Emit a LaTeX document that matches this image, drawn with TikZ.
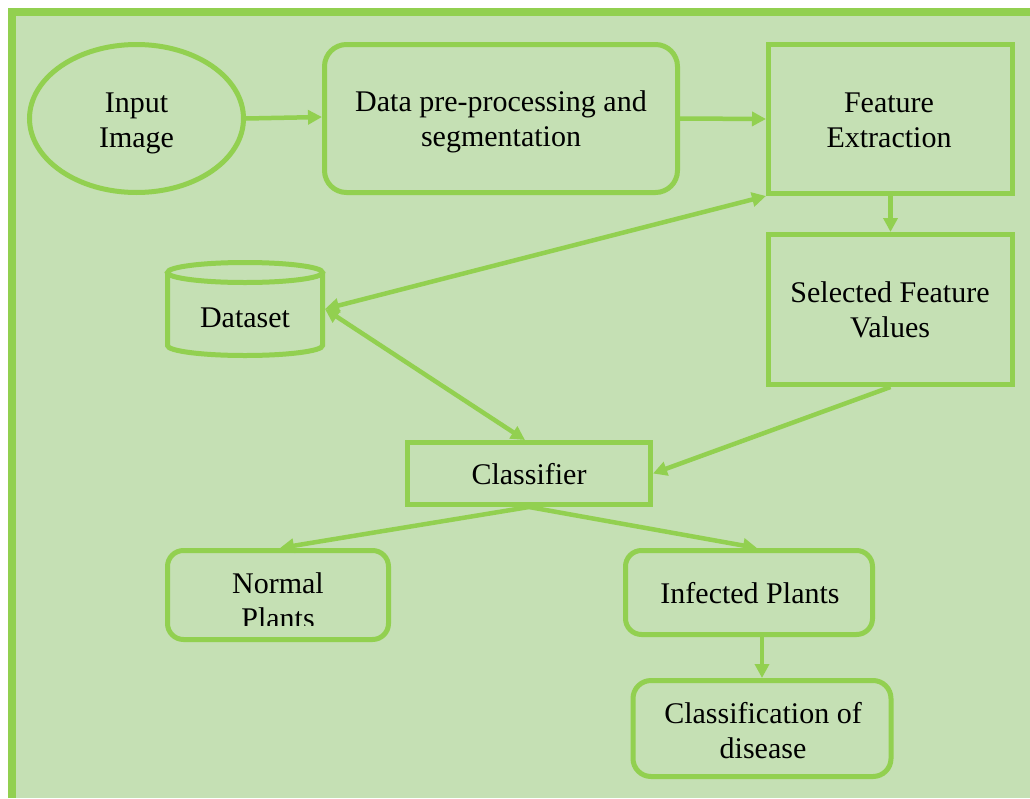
\documentclass[tikz,border=0pt]{standalone}
\usepackage{fontspec}
\setmainfont{Liberation Serif}
\usetikzlibrary{arrows.meta,shapes.geometric}
\definecolor{bgfill}{HTML}{C5E0B4}
\definecolor{edge}{HTML}{92D050}
\tikzset{
  shapebox/.style={draw=edge, line width=5pt, fill=none, inner sep=0pt, minimum width=#1},
  sqbox/.style={shapebox=#1, rectangle},
  rbox/.style={shapebox=#1, rectangle, rounded corners=22pt},
  lbl/.style={anchor=base, inner sep=0pt, font=\fontsize{30}{35}\selectfont, text=black},
  conn/.style={draw=edge, line width=4.5pt, -{Triangle[length=14pt,width=14pt]}},
  dconn/.style={draw=edge, line width=4.5pt, {Triangle[length=14pt,width=14pt]}-{Triangle[length=14pt,width=14pt]}},
}
\begin{document}
\begin{tikzpicture}[x=1pt,y=-1pt]
\useasboundingbox (0,0) rectangle (1030,798);
\fill[white] (0,0) rectangle (1030,798);
\fill[bgfill] (8,7.5) rectangle (1030,798);
\draw[edge, line width=8pt] (12,798) -- (12,11.5) -- (1030,11.5);

% shapes
\node[shapebox=214pt, ellipse, minimum height=148pt] (inp) at (136.5,118.5) {};
\node[rbox=353pt, minimum height=148pt] (pre) at (501,118.5) {};
\node[sqbox=244pt, minimum height=149pt] (fe) at (890.5,119) {};
\node[sqbox=244pt, minimum height=150pt] (sfv) at (890.5,309.5) {};
\node[draw=none, inner sep=0pt, minimum width=160pt, minimum height=98pt, outer sep=0pt] (ds) at (245,309) {};
\draw[edge, line width=5pt] (167.5,272.5) -- (167.5,345.5) arc[start angle=180, end angle=360, x radius=77.5, y radius=-10] -- (322.5,272.5);
\draw[edge, line width=5pt] (245,272.5) ellipse[x radius=77.5, y radius=10];
\node[sqbox=243pt, minimum height=62pt] (cls) at (529,473.5) {};
\node[rbox=221pt, minimum height=89pt, rounded corners=16pt] (np) at (278,595) {};
\node[rbox=247pt, minimum height=84pt, rounded corners=16pt] (ip) at (749,592.5) {};
\node[rbox=258pt, minimum height=96pt, rounded corners=18pt] (cd) at (762,728.5) {};

% texts
\node[lbl] (t1a) at (136.5,112) {Input};
\node[lbl] (t1b) at (136.5,147) {Image};
\node[lbl] (t2a) at (501,111) {Data pre-processing and};
\node[lbl] (t2b) at (501,146) {segmentation};
\node[lbl] (t3a) at (889,112) {Feature};
\node[lbl] (t3b) at (889,147) {Extraction};
\node[lbl] (t4a) at (890,302) {Selected Feature};
\node[lbl] (t4b) at (890,337) {Values};
\node[lbl] (t5) at (245,327) {Dataset};
\node[lbl] (t6) at (529,484) {Classifier};
\node[lbl] (t7a) at (278,593) {Normal};
\begin{scope}
\clip (150,600) rectangle (400,625);
\node[lbl] (t7b) at (278,628) {Plants};
\end{scope}
\node[lbl] (t8) at (750,603) {Infected Plants};
\node[lbl] (t9a) at (763,723) {Classification of};
\node[lbl] (t9b) at (763,758) {disease};

% connectors
\draw[conn] (inp.east) -- ([yshift=1.5pt]pre.west);
\draw[conn] (pre.east) -- ([yshift=0pt]fe.west);
\draw[conn] (fe.south) -- (sfv.north);
\draw[dconn] (ds.east) -- (fe.south west);
\draw[dconn] (ds.east) -- ([xshift=-4pt]cls.north);
\draw[conn] (sfv.south) -- (cls.east);
\draw[conn] (cls.south) -- ([xshift=2pt]np.north);
\draw[conn] (cls.south) -- ([xshift=8pt]ip.north);
\draw[conn] (cd.north |- ip.south) -- (cd.north);
\end{tikzpicture}
\end{document}
